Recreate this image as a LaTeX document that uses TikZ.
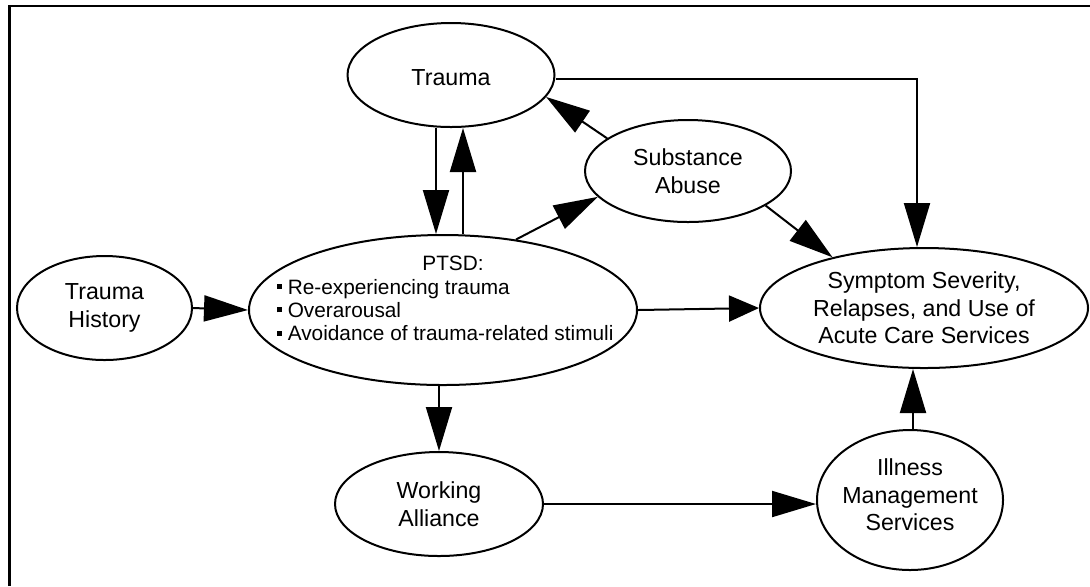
\documentclass[tikz,border=0pt]{standalone}
\usepackage{fontspec}
\setmainfont{Liberation Sans}
\usetikzlibrary{arrows.meta,shapes.geometric}
\newcommand{\sqbul}{\rule[2.6pt]{2.4pt}{2.4pt}\hspace{2.8pt}}
\begin{document}
\begin{tikzpicture}[x=0.5pt,y=-0.5pt,
  ell/.style={draw,ellipse,line width=1pt,inner sep=0pt},
  lbl/.style={align=center,inner sep=0pt,font=\fontsize{11.6}{13.75}\selectfont},
  small/.style={inner sep=0pt,font=\fontsize{10.4}{11.65}\selectfont},
  arr/.style={line width=1pt,-{Triangle[length=22pt,width=13pt]}},
  shortarr/.style={line width=1pt,-{Triangle[length=15pt,width=13pt]}}]
\useasboundingbox (0,0) rectangle (1090,586);
% frame
\draw[line width=1.3pt] (9.5,586) -- (9.5,6) -- (1090,6);
% ellipses
\node[ell,minimum width=103.5pt,minimum height=52pt] (trauma) at (451,75) {};
\node[ell,minimum width=103pt,minimum height=51pt] (sub) at (688,171) {};
\node[ell,minimum width=87.5pt,minimum height=52pt] (th) at (104.5,308) {};
\node[ell,minimum width=194pt,minimum height=75pt] (ptsd) at (443,310) {};
\node[ell,minimum width=164pt,minimum height=60pt] (sym) at (924,308) {};
\node[ell,minimum width=104pt,minimum height=52pt] (work) at (439,504) {};
\node[ell,minimum width=93pt,minimum height=70pt] (ill) at (910,500) {};
% labels
\node[lbl] (traumaL) at (451,78) {Trauma};
\node[lbl] (subL) at (688,171) {Substance\\Abuse};
\node[lbl] (thL) at (104.5,308) {Trauma\\History};
\node[lbl] (symL) at (924,308) {Symptom Severity,\\Relapses, and Use of\\Acute Care Services};
\node[lbl] (workL) at (439,504) {Working\\Alliance};
\node[lbl] (illL) at (910,495) {Illness\\Management\\Services};
\node[small] (ptsdT) at (453,263) {PTSD:};
\node[small,anchor=west,align=left] (ptsdL) at (277,310) {\sqbul Re-experiencing trauma\\\sqbul Overarousal\\\sqbul Avoidance of trauma-related stimuli};
% connectors
\draw[arr] ([xshift=-7.5pt]trauma.south) -- ([xshift=-7.5pt]trauma.south |- ptsd.north);
\draw[arr] ([xshift=6pt]trauma.south |- ptsd.north) -- ([xshift=6pt]trauma.south);
\draw[arr] (sub.158) -- (trauma.-13.5);
\draw[arr] (ptsd.44) -- (sub.196.5);
\draw[arr] (sub.-24) -- (sym.151.5);
\draw[arr] ([yshift=-2pt]trauma.east) -| ([xshift=-3.5pt]sym.north);
\draw[arr] (th.east) -- (ptsd.west);
\draw[shortarr] (ptsd.east) -- (sym.west);
\draw[arr] (ptsd.south -| work.north) -- (work.north);
\draw[arr] (work.east) -- (work.east -| ill.west);
\draw[arr] ([xshift=1.5pt]ill.north) -- ([xshift=1.5pt]ill.north |- sym.south);
\end{tikzpicture}
\end{document}
